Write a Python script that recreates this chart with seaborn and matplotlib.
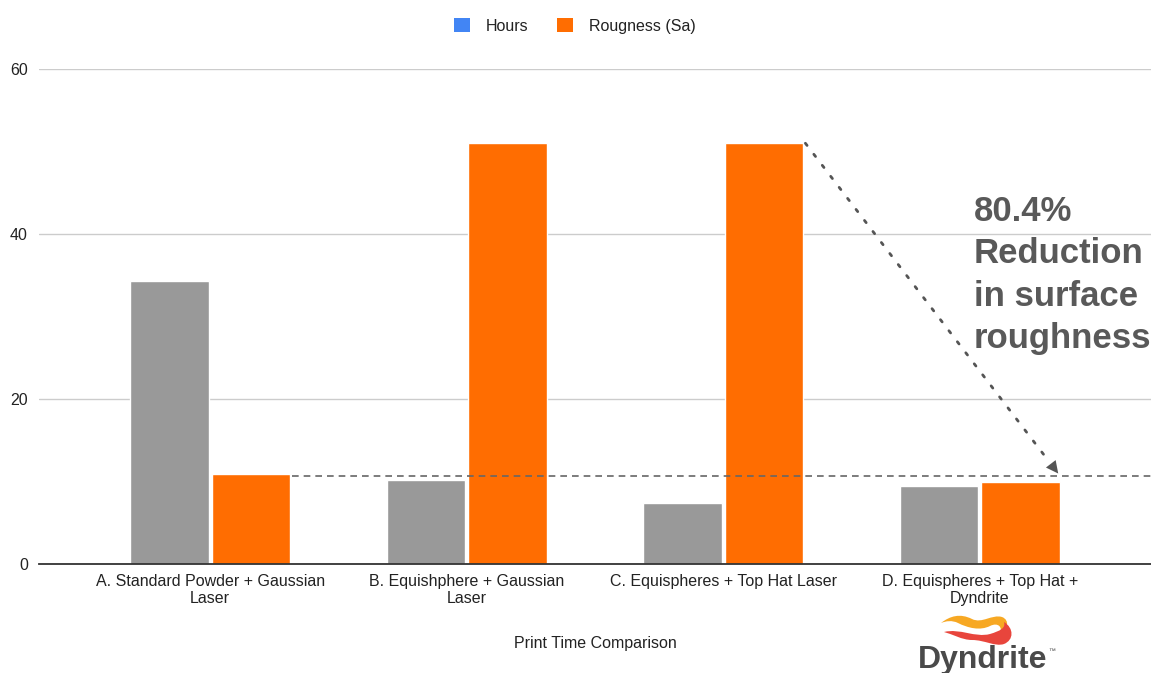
import matplotlib
matplotlib.use("Agg")
import matplotlib.pyplot as plt
import seaborn as sns
import pandas as pd
from matplotlib.patches import Patch, PathPatch
from matplotlib.path import Path

# Data
categories = [
    "A. Standard Powder + Gaussian\nLaser",
    "B. Equishphere + Gaussian\nLaser",
    "C. Equispheres + Top Hat Laser",
    "D. Equispheres + Top Hat +\nDyndrite",
]
hours = [34.3, 10.2, 7.4, 9.5]
roughness = [10.9, 51.0, 51.0, 10.0]
series_names = ["Hours", "Rougness (Sa)"]
y_ticks = [0, 20, 40, 60]
reference_level = 10.7
callout = "80.4%\nReduction\nin surface\nroughness"

df = pd.DataFrame({
    "category": categories * 2,
    "series": [series_names[0]] * 4 + [series_names[1]] * 4,
    "value": hours + roughness,
})

sns.set_theme(style="white")
plt.rcParams["font.family"] = ["Liberation Sans", "DejaVu Sans"]

W, H = 1151, 673
fig = plt.figure(figsize=(W / 100, H / 100), dpi=100)
ax = fig.add_axes([39 / W, 1 - 564 / H, (1151 - 39) / W, (564 - 69) / H])

bar_colors = {series_names[0]: "#999999", series_names[1]: "#ff6d01"}
sns.barplot(data=df, x="category", y="value", hue="series",
            hue_order=series_names, palette=bar_colors, width=0.635,
            gap=0.04, saturation=1, ax=ax, legend=False)

ax.set_xlim(-0.667, 3.667)
ax.set_ylim(0, 60)
ax.set_yticks(y_ticks)
ax.set_yticklabels([str(t) for t in y_ticks])
ax.yaxis.grid(True, color="#cccccc", lw=1)
ax.set_axisbelow(True)
for s in ["left", "right", "top"]:
    ax.spines[s].set_visible(False)
ax.spines["bottom"].set_color("#333333")
ax.spines["bottom"].set_linewidth(1.3)
ax.tick_params(axis="both", length=0, labelsize=11.5, labelcolor="#222222")
ax.tick_params(axis="y", pad=8)
ax.tick_params(axis="x", pad=7)
for lab in ax.get_xticklabels():
    lab.set_linespacing(1.15)
ax.set_ylabel("")
ax.set_xlabel("Print Time Comparison", fontsize=11.5, color="#222222", labelpad=22)

# Reference line at the roughness level achieved
ax.plot([0.32, 3.667], [reference_level, reference_level], ls=(0, (4, 3)),
        color="#666666", lw=1.2)

# Dotted arrow from C roughness down to the reference
x0, y0 = 2.32, roughness[2]
x1, y1 = 3.312, reference_level
ax.plot([x0, x0 + (x1 - x0) * 0.95], [y0, y0 + (y1 - y0) * 0.95],
        ls=(0, (1, 4)), lw=2, color="#555555", dash_capstyle="round")
ax.annotate("", xy=(x1, y1), xytext=(x0 + (x1 - x0) * 0.94, y0 + (y1 - y0) * 0.94),
            arrowprops=dict(arrowstyle="-|>", mutation_scale=22, color="#555555", lw=0))

fig.text(974 / W, 1 - 195 / H, callout, ha="left", va="top", fontsize=25,
         fontweight="bold", color="#595959", linespacing=1.36)

# Legend
handles = [Patch(facecolor="#4285f4", edgecolor="none"),
           Patch(facecolor="#ff6d01", edgecolor="none")]
fig.legend(handles, series_names, loc="center", bbox_to_anchor=(575 / W, 1 - 26 / H),
           ncol=2, frameon=False, fontsize=11.5, handlelength=1.0, handleheight=1.0,
           handletextpad=1.0, columnspacing=1.8, labelcolor="#222222")

# Logo
lax = fig.add_axes([900 / W, 0, 170 / W, 75 / H])
lax.set_xlim(900, 1070)
lax.set_ylim(673, 598)
lax.axis("off")
C4 = Path.CURVE4
M = Path.MOVETO
upper = Path([(941, 623), (950, 616), (960, 613), (972, 619),
              (982, 624), (992, 614), (1002, 617),
              (1010, 620), (1008, 630), (1000, 634),
              (1003, 627), (998, 622), (990, 626),
              (980, 631), (968, 628), (958, 623),
              (952, 620), (946, 621), (941, 623)],
             [M] + [C4] * 18)
lower = Path([(944, 632), (960, 628), (975, 638), (990, 634),
              (1000, 631), (1006, 628), (1004, 622),
              (1014, 628), (1014, 640), (1004, 644),
              (995, 647), (985, 640), (972, 640),
              (962, 640), (952, 634), (944, 632)],
             [M] + [C4] * 15)
lax.add_patch(PathPatch(upper, facecolor="#f7a823", edgecolor="none"))
lax.add_patch(PathPatch(lower, facecolor="#e8453c", edgecolor="none"))
lax.text(983, 668, "Dyndrite", ha="center", va="baseline", fontsize=23,
         fontweight="bold", color="#4a4a4a")
lax.text(1048, 652, "\u2122", ha="left", va="center", fontsize=5, color="#4a4a4a")

fig.savefig("out.png", dpi=100, facecolor="white")
